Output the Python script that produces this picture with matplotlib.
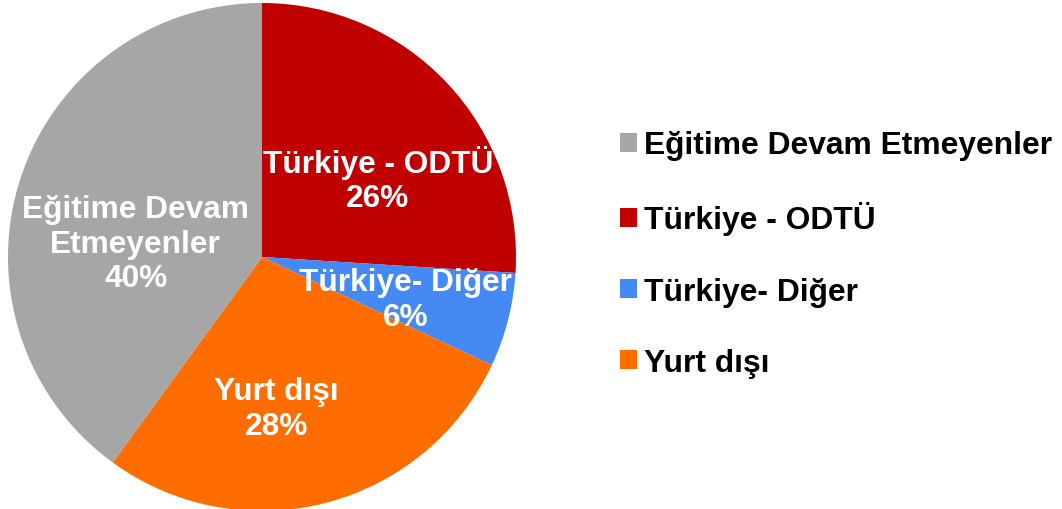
import matplotlib
matplotlib.use("Agg")
import matplotlib.pyplot as plt
import numpy as np

plt.rcParams['font.family'] = ['Liberation Sans', 'DejaVu Sans']

categories = ["Türkiye - ODTÜ", "Türkiye- Diğer", "Yurt dışı", "Eğitime Devam Etmeyenler"]
values = [26, 6, 28, 40]
colors = ["#C00000", "#4589F5", "#FF6D00", "#A6A6A6"]
legend_order = [3, 0, 1, 2]

# label placement (radial fraction, angle in degrees) - layout only
label_pos = [(0.55, 34), (0.59, -16.5), (0.60, -84.5), (0.50, 174)]
label_text = ["Türkiye - ODTÜ", "Türkiye- Diğer", "Yurt dışı", "Eğitime Devam\nEtmeyenler"]

fig = plt.figure(figsize=(10.62, 5.10), dpi=100)
cx, cy, r = 262, 510 - 258, 254
ax = fig.add_axes([(cx - r) / 1062, (cy - r) / 510, 2 * r / 1062, 2 * r / 510])
wedges, _ = ax.pie(values, colors=colors, startangle=90, counterclock=False,
                   radius=1, wedgeprops=dict(linewidth=0))
ax.set_xlim(-1, 1)
ax.set_ylim(-1, 1)
ax.set_aspect('equal')
ax.axis('off')

total = sum(values)
for (rf, ang), txt, v in zip(label_pos, label_text, values):
    a = np.deg2rad(ang)
    ax.text(rf * np.cos(a), rf * np.sin(a), f"{txt}\n{round(100 * v / total)}%",
            ha='center', va='center', color='white', fontsize=22.8,
            fontweight='bold', linespacing=1.2)

handles = [wedges[i] for i in legend_order]
labels = [categories[i] for i in legend_order]
fig.legend(handles, labels, loc='center left', bbox_to_anchor=(620 / 1062, 255 / 510),
           frameon=False, borderpad=0, borderaxespad=0,
           prop=dict(weight='bold', size=22.9), handlelength=0.55, handleheight=0.55,
           handletextpad=0.22, labelspacing=1.29)

fig.savefig("out.png", dpi=100)
